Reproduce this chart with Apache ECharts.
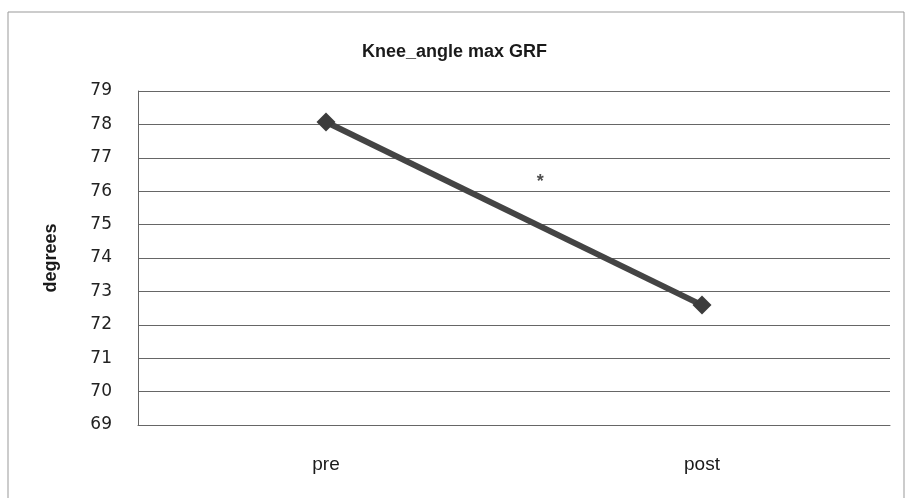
<!DOCTYPE html>
<html>
<head>
<meta charset="utf-8">
<script src="https://cdn.jsdelivr.net/npm/echarts@6/dist/echarts.min.js"></script>
<style>
html, body { margin: 0; padding: 0; background: #fff; }
#chart { width: 909px; height: 498px; }
</style>
</head>
<body>
<div id="chart"></div>
<script>
var categories = ['pre', 'post'];
var kneeAngle = [78.07, 72.59];
var yTicks = { min: 69, max: 79, interval: 1 };
// asterisk between the two points: [position on 0..2 helper axis, value]
var starPoint = [1.07, 76.4];

var myChart = echarts.init(document.getElementById('chart'));
var option = {
	backgroundColor: '#fff',
	animation: false,
	title: {
		text: 'Knee_angle max GRF',
		left: 'center',
		top: 38,
		textStyle: {
			fontFamily: 'Liberation Sans',
			fontSize: 18,
			fontWeight: 'bold',
			color: '#1a1a1a'
		}
	},
	graphic: [{
		type: 'rect',
		shape: { x: 8, y: 12, width: 896, height: 495 },
		style: { fill: 'none', stroke: '#999', lineWidth: 1 }
	}],
	grid: {
		left: 138,
		right: 19,
		top: 91,
		bottom: 73
	},
	xAxis: [{
		type: 'category',
		data: categories,
		boundaryGap: true,
		axisLine: { lineStyle: { color: '#666', width: 1 } },
		axisTick: { show: false },
		axisLabel: {
			margin: 30,
			fontFamily: 'Liberation Sans',
			fontSize: 19,
			color: '#1a1a1a'
		}
	}, {
		type: 'value',
		min: 0,
		max: 2,
		show: false
	}],
	yAxis: {
		type: 'value',
		min: yTicks.min,
		max: yTicks.max,
		interval: yTicks.interval,
		name: 'degrees',
		nameLocation: 'middle',
		nameGap: 78,
		nameTextStyle: {
			fontFamily: 'Liberation Sans',
			fontSize: 18,
			fontWeight: 'bold',
			color: '#1a1a1a'
		},
		axisLine: { show: true, lineStyle: { color: '#666', width: 1 } },
		axisTick: { show: false },
		axisLabel: {
			margin: 26,
			fontFamily: 'DejaVu Sans',
			fontSize: 17,
			color: '#222'
		},
		splitLine: { lineStyle: { color: '#666', width: 1 } }
	},
	series: [{
		name: 'Knee_angle',
		type: 'line',
		data: kneeAngle,
		symbol: 'diamond',
		symbolSize: 19,
		itemStyle: { color: '#3c3c3c' },
		lineStyle: { color: '#444', width: 6 }
	}, {
		name: 'star',
		type: 'scatter',
		xAxisIndex: 1,
		data: [starPoint],
		symbolSize: 1,
		itemStyle: { color: 'transparent' },
		label: {
			show: true,
			position: 'inside',
			formatter: '*',
			fontFamily: 'Liberation Sans',
			fontSize: 18,
			fontWeight: 'bold',
			color: '#222',
			offset: [0, 4]
		}
	}]
};
myChart.setOption(option);
window.onresize = function() {
	myChart.resize();
};
</script>
</body>
</html>
